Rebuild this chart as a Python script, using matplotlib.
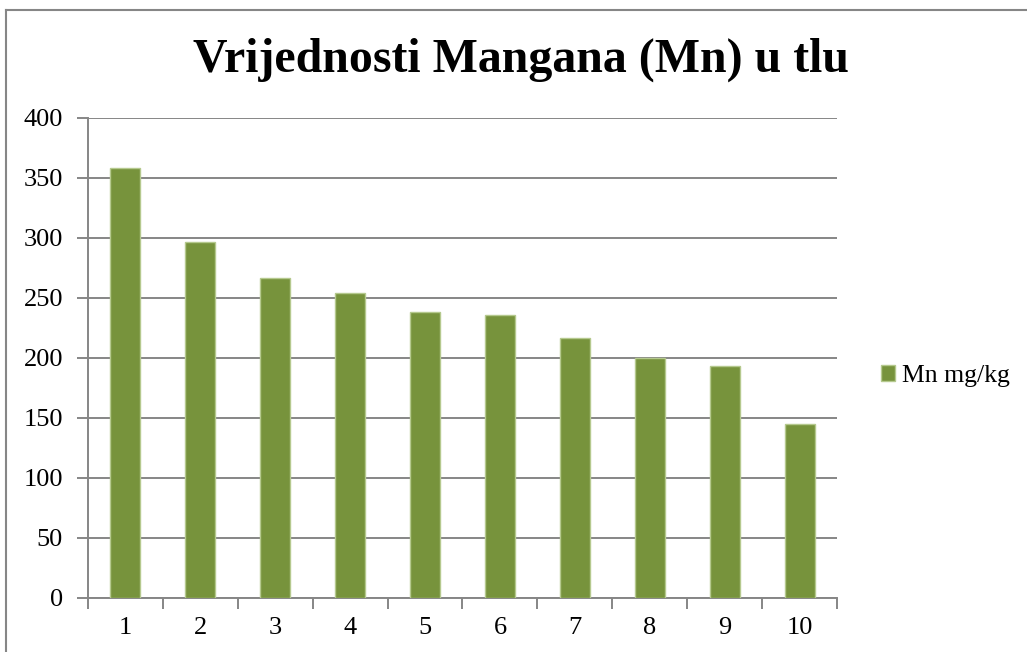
import matplotlib.pyplot as plt
from matplotlib.lines import Line2D
from matplotlib.patches import Patch
import numpy as np

uzorci = ['1', '2', '3', '4', '5', '6', '7', '8', '9', '10']
mn_vrijednosti = [358, 297, 267, 254, 238, 236, 217, 200, 193, 145]

plt.rcParams['font.family'] = ['Liberation Serif', 'DejaVu Serif']

fig = plt.figure(figsize=(10.27, 6.52), dpi=100)
ax = fig.add_axes([88/1027, 54/652, 749/1027, 480/652])

x = np.arange(len(uzorci))
ax.bar(x, mn_vrijednosti, width=0.4, color='#77933C', edgecolor='#B5C98E', linewidth=1, zorder=3)

ax.set_xlim(-0.5, len(uzorci) - 0.5)
ax.set_ylim(0, 400)
ax.set_yticks(range(0, 401, 50))
ax.yaxis.grid(True, color='#868686', linewidth=1.4, zorder=0)

# x ticks sit between categories, labels centered under bars
ax.set_xticks(np.arange(-0.5, len(uzorci), 1.0))
ax.set_xticklabels([])
ax.set_xticks(x, minor=True)
ax.set_xticklabels(uzorci, minor=True)
ax.tick_params(axis='x', which='minor', length=0, pad=14, labelsize=19)
ax.tick_params(axis='x', which='major', length=8, width=1.4, color='#868686')
ax.tick_params(axis='y', length=8, width=1.4, color='#868686', labelsize=19, pad=10)

for s in ['top', 'right']:
    ax.spines[s].set_visible(False)
for s in ['left', 'bottom']:
    ax.spines[s].set_color('#868686')
    ax.spines[s].set_linewidth(1.4)

fig.text(521/1027, 1 - 60/652, 'Vrijednosti Mangana (Mn) u tlu', ha='center', va='center',
         fontsize=34.5, fontweight='bold')

ax.legend(handles=[Patch(facecolor='#77933C', edgecolor='#B5C98E', label='Mn mg/kg')],
          loc='center left', bbox_to_anchor=(858/1027, 1 - 376/652), bbox_transform=fig.transFigure,
          frameon=False, fontsize=18.5, handlelength=0.55, handleheight=0.55, handletextpad=0.25)

# chart area border (top and left visible)
fig.add_artist(Line2D([6/1027, 6/1027], [0, 1 - 10/652], transform=fig.transFigure, color='#868686', lw=1.5))
fig.add_artist(Line2D([6/1027, 1], [1 - 10/652, 1 - 10/652], transform=fig.transFigure, color='#868686', lw=1.5))

fig.savefig('out.png', dpi=100)
